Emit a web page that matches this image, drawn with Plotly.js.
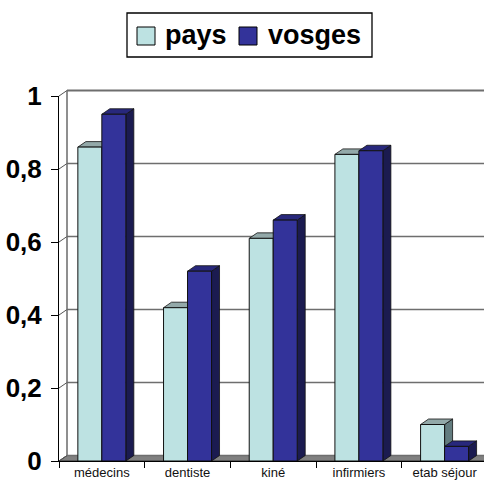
<!DOCTYPE html>
<html>
<head>
<meta charset="utf-8">
<script src="https://cdn.plot.ly/plotly-3.0.1.min.js"></script>
<style>html,body{margin:0;padding:0;background:#fff;overflow:hidden;}</style>
</head>
<body>
<div id="chart" style="width:484px;height:485px;"></div>
<script>
// ---- data ----
const categories = ['médecins', 'dentiste', 'kiné', 'infirmiers', 'etab séjour'];
const paysValues = [0.86, 0.42, 0.61, 0.84, 0.10];
const vosgesValues = [0.95, 0.52, 0.66, 0.85, 0.04];
const seriesNames = ['pays', 'vosges'];
const yTickVals = [0, 0.2, 0.4, 0.6, 0.8, 1];
const yTickText = ['0', '0,2', '0,4', '0,6', '0,8', '1'];

// ---- styling ----
const FONT = 'Liberation Sans, Arial, Helvetica, sans-serif';
const colors = {
  pays:   {front: '#bde2e2', top: '#93a9a9', side: '#637c7f'},
  vosges: {front: '#33339a', top: '#28287c', side: '#1b1b50'}
};
const L = 59, T = 96, PW = 425, PH = 365;      // plot area in px
const xMin = -0.5, xMax = 4.46;
const bargap = 0.44;
const depthPx = 8, depthPy = 5.5;             // 3D depth offset in px
const dx = depthPx * (xMax - xMin) / PW;      // in x data units
const dy = depthPy / PH;                      // in y data units (range 0..1)
const barW = (1 - bargap) / 2;

function pxX(x) { return (x - L) / PW; }
function pxY(y) { return (T + PH - y) / PH; }

const shapes = [];

// floor (paper)
const fy0 = 0, fy1 = dy;
shapes.push({
  type: 'path', xref: 'paper', yref: 'paper', layer: 'below',
  path: `M0,${fy0} L1.05,${fy0} L1.05,${fy1} L${depthPx/PW},${fy1} Z`,
  fillcolor: '#808080', line: {color: '#333', width: 1}
});

// back wall gridlines + left wall connectors
yTickVals.forEach(v => {
  shapes.push({
    type: 'line', xref: 'paper', yref: 'paper', layer: 'below',
    x0: depthPx/PW, x1: 1.05, y0: v + dy, y1: v + dy,
    line: {color: '#6e6e6e', width: v === 1 ? 2 : 1.3}
  });
  shapes.push({
    type: 'line', xref: 'paper', yref: 'paper', layer: 'below',
    x0: 0, x1: depthPx/PW, y0: v, y1: v + dy,
    line: {color: '#555', width: 1}
  });
});
// back wall left edge
shapes.push({
  type: 'line', xref: 'paper', yref: 'paper', layer: 'below',
  x0: depthPx/PW, x1: depthPx/PW, y0: dy, y1: 1 + dy,
  line: {color: '#6a6a6a', width: 1.5}
});

// 3D faces for bars (data coordinates)
function addFaces(values, offset, c) {
  values.forEach((v, i) => {
    const xl = i + offset, xr = xl + barW;
    shapes.push({
      type: 'path', xref: 'x', yref: 'y', layer: 'below',
      path: `M${xr},0 L${xr+dx},${dy} L${xr+dx},${v+dy} L${xr},${v} Z`,
      fillcolor: c.side, line: {color: '#111', width: 0.8}
    });
    shapes.push({
      type: 'path', xref: 'x', yref: 'y', layer: 'below',
      path: `M${xl},${v} L${xr},${v} L${xr+dx},${v+dy} L${xl+dx},${v+dy} Z`,
      fillcolor: c.top, line: {color: '#111', width: 0.8}
    });
  });
}
addFaces(paysValues, -barW, colors.pays);
addFaces(vosgesValues, 0, colors.vosges);

// custom legend
shapes.push({
  type: 'rect', xref: 'paper', yref: 'paper',
  x0: pxX(127), x1: pxX(372), y0: pxY(13), y1: pxY(57),
  fillcolor: '#fff', line: {color: '#000', width: 1.3}
});
const swatchX = [137, 239];
const textX = [163, 266];
const annotations = [];
seriesNames.forEach((name, k) => {
  shapes.push({
    type: 'rect', xref: 'paper', yref: 'paper',
    x0: pxX(swatchX[k]), x1: pxX(swatchX[k] + 18), y0: pxY(27), y1: pxY(45),
    fillcolor: colors[name].front, line: {color: '#000', width: 1}
  });
  annotations.push({
    xref: 'paper', yref: 'paper', x: pxX(textX[k]), y: pxY(35),
    xanchor: 'left', yanchor: 'middle', showarrow: false,
    text: name, font: {family: FONT, size: 27, weight: 700, color: '#000'}
  });
});

const traces = [
  {type: 'bar', name: seriesNames[0], x: categories, y: paysValues,
   marker: {color: colors.pays.front, line: {color: '#111', width: 1}}, hoverinfo: 'none'},
  {type: 'bar', name: seriesNames[1], x: categories, y: vosgesValues,
   marker: {color: colors.vosges.front, line: {color: '#111', width: 1}}, hoverinfo: 'none'}
];

const layout = {
  width: 484, height: 485,
  margin: {l: L, r: 484 - L - PW, t: T, b: 485 - T - PH, pad: 0},
  paper_bgcolor: '#fff', plot_bgcolor: 'rgba(0,0,0,0)',
  barmode: 'group', bargap: bargap, bargroupgap: 0,
  showlegend: false,
  font: {family: FONT, color: '#000'},
  xaxis: {
    type: 'category', range: [xMin, xMax], autorange: false,
    showgrid: false, zeroline: false,
    showline: true, linecolor: '#000', linewidth: 1,
    ticks: 'outside', tickson: 'boundaries', ticklen: 6, tickcolor: '#000', tickwidth: 1,
    tickfont: {family: FONT, size: 13, color: '#111'}, ticklabelstandoff: -1
  },
  yaxis: {
    range: [0, 1], autorange: false,
    tickmode: 'array', tickvals: yTickVals, ticktext: yTickText,
    showgrid: false, zeroline: false,
    showline: true, linecolor: '#000', linewidth: 1,
    ticks: 'outside', ticklen: 7, tickcolor: '#000', tickwidth: 1,
    tickfont: {family: FONT, size: 26, weight: 700, color: '#000'},
    ticklabelstandoff: 4
  },
  shapes: shapes,
  annotations: annotations
};

Plotly.newPlot('chart', traces, layout, {staticPlot: true, displayModeBar: false});
</script>
</body>
</html>
